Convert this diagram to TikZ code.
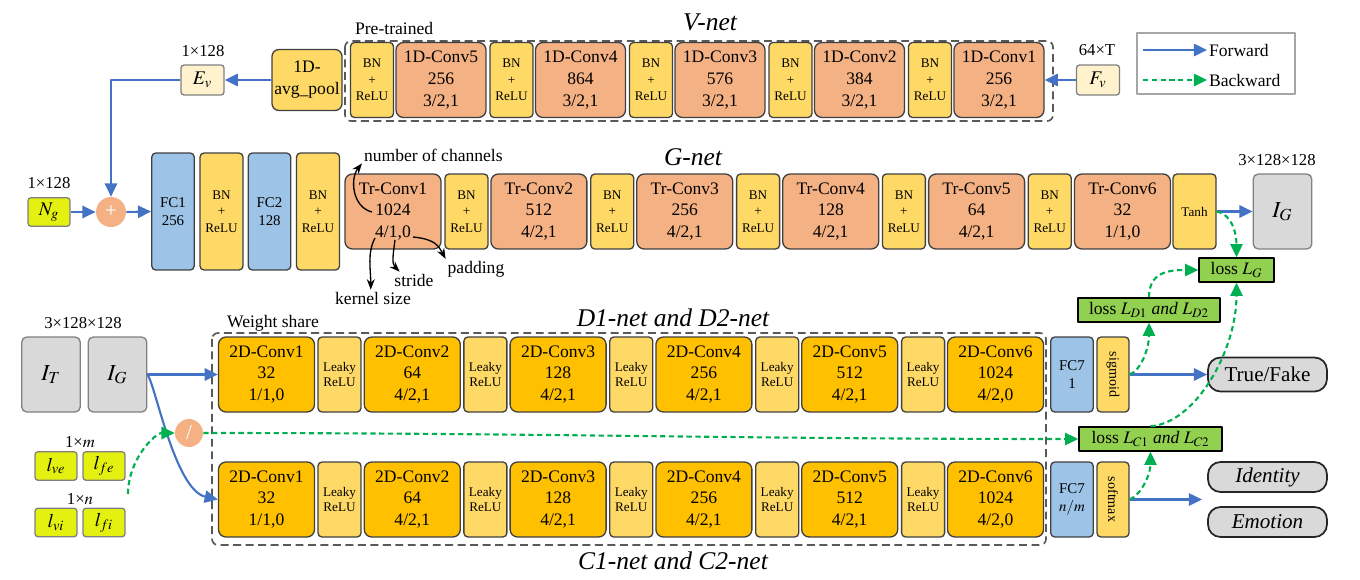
\documentclass[tikz,border=0pt]{standalone}
\usepackage{mathptmx}
\usepackage{fontspec}
\setmainfont{Liberation Serif}
\usetikzlibrary{arrows.meta}
\definecolor{convoc}{HTML}{F4B183}
\definecolor{convgc}{HTML}{FFC000}
\definecolor{bnyc}{HTML}{FFD966}
\definecolor{fcbc}{HTML}{9DC3E6}
\definecolor{imgc}{HTML}{D9D9D9}
\definecolor{featc}{HTML}{FFF2CC}
\definecolor{inpc}{HTML}{E4F00F}
\definecolor{lossc}{HTML}{92D050}
\definecolor{fwdc}{HTML}{4472C4}
\definecolor{bwdc}{HTML}{00B050}
\definecolor{edgec}{HTML}{404040}
\definecolor{graybc}{HTML}{808080}
\definecolor{framec}{HTML}{595959}
\definecolor{legc}{HTML}{A6A6A6}

\begin{document}
\begin{tikzpicture}[x=.02cm, y=-.02cm, line join=round]
  \tikzset{box/.style={draw=edgec, line width=.75pt, align=center, inner sep=0pt, text=black},
    conv/.style={box, fill=convoc, rounded corners=.15cm, minimum width=1.92cm, minimum height=1.5cm, font=\fontsize{10}{12.3}\selectfont},
    convv/.style={conv, minimum width=1.8cm},
    convd/.style={conv, fill=convgc},
    bn/.style={box, fill=bnyc, rounded corners=.08cm, minimum width=.86cm, minimum height=1.5cm, font=\fontsize{7.5}{9.5}\selectfont},
    leaky/.style={bn, font=\fontsize{7.5}{8.6}\selectfont},
    fc/.style={box, fill=fcbc, rounded corners=.08cm, minimum width=.85cm, minimum height=1.5cm, font=\fontsize{8.5}{10.3}\selectfont},
    act/.style={bn, minimum width=1.5cm, minimum height=.64cm, rotate=-90, font=\fontsize{8}{10}\selectfont},
    feat/.style={box, draw=graybc, fill=featc, rounded corners=.06cm, minimum width=.86cm, minimum height=.6cm, font=\fontsize{11}{13}\selectfont},
    inp/.style={box, draw=graybc, fill=inpc, rounded corners=.06cm, minimum width=.84cm, minimum height=.57cm, font=\fontsize{11}{13}\selectfont},
    img/.style={box, draw=graybc, fill=imgc, rounded corners=.1cm, minimum width=1.17cm, minimum height=1.5cm, font=\fontsize{13}{15}\selectfont},
    op/.style={circle, fill=convoc, text=white, inner sep=0pt, minimum size=.6cm, font=\fontsize{12}{12}\selectfont},
    lossbox/.style={box, draw=black, line width=.9pt, fill=lossc, minimum height=.48cm, font=\fontsize{10}{12}\selectfont},
    outbox/.style={box, draw=black!85, line width=1pt, fill=imgc, rounded corners=.25cm, minimum width=2.38cm, minimum height=.68cm, font=\fontsize{12}{14}\selectfont},
    dimlbl/.style={inner sep=0pt, font=\fontsize{9.5}{11}\selectfont},
    title/.style={inner sep=0pt, font=\fontsize{14.5}{16}\selectfont\itshape},
    note/.style={inner sep=1pt, font=\fontsize{10}{12}\selectfont},
    frame/.style={draw=framec, line width=.95pt, dash pattern=on 4.5pt off 2.6pt, rounded corners=.12cm},
    fwd/.style={draw=fwdc, line width=1.2pt, -{Triangle[length=7.5pt,width=7pt]}},
    bwd/.style={draw=bwdc, line width=1.2pt, dash pattern=on 3pt off 2pt, -{Triangle[length=7.5pt,width=7pt]}},
    ann/.style={draw=black, line width=.75pt, -{Stealth[length=6pt,width=4.5pt]}}}

  \useasboundingbox (0,0) rectangle (1360,579);

  % V-net
  \draw[frame] (345,41) rectangle (1053,121);
  \node[note, anchor=west] (pretr) at (353,28) {Pre-trained};
  \node[title] (vnet) at (710,22) {V-net};
  \foreach \pos/\lay/\ch in {0/5/256,1/4/864,2/3/576,3/2/384,4/1/256} {
    \node[bn] (vbn\lay) at (372+139.5*\pos,80) {BN\\+\\ReLU};
    \node[convv] (vconv\lay) at (441+139.5*\pos,80) {1D-Conv\lay\\\ch\\3/2,1};
  }
  \node[bn, minimum width=1.4cm, minimum height=1.22cm, rounded corners=.14cm, font=\fontsize{10}{12.5}\selectfont] (vpool) at (307,80) {1D-\\avg\_pool};
  \node[feat] (fv) at (1098,80) {$F_v$};
  \node[dimlbl] (fvdim) at (1097,50) {64×T};
  \node[feat] (ev) at (202.5,80) {$E_v$};
  \node[dimlbl] (evdim) at (203,51) {1×128};
  \draw[fwd] (fv.west) -- (vconv1.east);
  \draw[fwd] (vpool.west) -- (ev.east);

  % legend
  \node[draw=legc, line width=.8pt, minimum width=3.16cm, minimum height=1.22cm] (legend) at (1216,63.5) {};
  \node[note, anchor=west] (fwdtxt) at (1207,50) {Forward};
  \node[note, anchor=west] (bwdtxt) at (1207,80) {Backward};
  \coordinate (fwdtail) at (1143,50);
  \coordinate (bwdtail) at (1143,80);
  \draw[fwd] (fwdtail) -- (fwdtxt.west);
  \draw[bwd] (bwdtail) -- (bwdtxt.west);

  % G-net
  \node[inp] (ng) at (49,212) {$N_g$};
  \node[dimlbl] (ngdim) at (49,183) {1×128};
  \node[op] (plus) at (111,212) {+};
  \node[fc, minimum height=2.34cm] (fc1) at (173,211.5) {FC1\\256};
  \node[bn, minimum height=2.34cm] (fcbn1) at (221.5,211.5) {BN\\+\\ReLU};
  \node[fc, minimum height=2.34cm] (fc2) at (269.5,211.5) {FC2\\128};
  \node[bn, minimum height=2.34cm] (fcbn2) at (318,211.5) {BN\\+\\ReLU};
  \node[title] (gnet) at (693,157) {G-net};
  \foreach \pos/\ch/\ks/\sd/\pd in {1/1024/4/1/0,2/512/4/2/1,3/256/4/2/1,4/128/4/2/1,5/64/4/2/1,6/32/1/1/0}
    \node[conv] (tr\pos) at (247.1+145.9*\pos,211.5) {Tr-Conv\pos\\\ch\\\ks/\sd,\pd};
  \foreach \pos in {1,...,5}
    \node[bn] (gbn\pos) at (320.7+145.8*\pos,211.5) {BN\\+\\ReLU};
  \node[bn] (tanh) at (1194.5,211.5) {Tanh};
  \node[img] (ig) at (1282.5,211.5) {$I_G$};
  \node[dimlbl] (igdim) at (1277,160) {3×128×128};
  \draw[fwd] (ev.west) -| (plus.north);
  \draw[fwd] (ng.east) -- (plus.west);
  \draw[fwd] (plus.east) -- (fc1.west);
  \draw[fwd] (tanh.east) -- (ig.west);

  % Tr-Conv1 notes
  \node[note, anchor=west] (nch) at (362,155) {number of channels};
  \node[note] (ksz) at (373,298) {kernel size};
  \node[note] (strd) at (414,280) {stride};
  \node[note] (padd) at (476,269) {padding};
  \coordinate (chpt) at (372,212);
  \coordinate (kspt) at (375,238);
  \coordinate (sdpt) at (395,240);
  \coordinate (pdpt) at (413,237);
  \draw[ann] (chpt) .. controls +(-20,-5) and +(-12,15) .. (nch.south west);
  \draw[ann] (kspt) .. controls +(-8,15) and +(0,-20) .. (ksz.105);
  \draw[ann] (sdpt) .. controls +(-2,15) and +(-8,-8) .. (strd.150);
  \draw[ann] (pdpt) .. controls +(20,2) and +(-8,-15) .. (padd.north west);

  % D1/D2-net and C1/C2-net
  \draw[frame] (212,333) rectangle (1046,545);
  \node[note, anchor=west] (wshare) at (225,323) {Weight share};
  \node[title] (dnet) at (673,318) {D1-net and D2-net};
  \node[title] (cnet) at (673,561) {C1-net and C2-net};
  \foreach \row/\y in {d/374.5,c/499.5} {
    \foreach \pos/\ch/\ks/\sd/\pd in {1/32/1/1/0,2/64/4/2/1,3/128/4/2/1,4/256/4/2/1,5/512/4/2/1,6/1024/4/2/0}
      \node[convd] (\row conv\pos) at (120.7+145.8*\pos,\y) {2D-Conv\pos\\\ch\\\ks/\sd,\pd};
    \foreach \pos in {1,...,5}
      \node[leaky] (\row relu\pos) at (193.6+145.9*\pos,\y) {Leaky\\ReLU};
  }
  \node[fc] (dfc) at (1072,374.5) {FC7\\1};
  \node[act] (dsig) at (1113,374.5) {sigmoid};
  \node[fc] (cfc) at (1072,499.5) {FC7\\$n/m$};
  \node[act] (csoft) at (1113,499.5) {softmax};

  % inputs
  \node[img] (it) at (51,374.5) {$I_T$};
  \node[img] (igd) at (117.5,374.5) {$I_G$};
  \node[dimlbl] (itdim) at (83,323) {3×128×128};
  \node[inp] (lve) at (56,466) {$l_{ve}$};
  \node[inp] (lfe) at (104,466) {$l_{fe}$};
  \node[inp] (lvi) at (56,522.5) {$l_{vi}$};
  \node[inp] (lfi) at (104,522.5) {$l_{fi}$};
  \node[dimlbl] (mdim) at (80,442) {1×$m$};
  \node[dimlbl] (ndim) at (80,499) {1×$n$};
  \node[op, minimum size=.56cm] (slash) at (189,433) {/};
  \coordinate (lsrc) at (128,494);

  % outputs and losses
  \node[outbox] (tf) at (1267.5,374.5) {True/Fake};
  \node[outbox, minimum height=.6cm, font=\fontsize{12}{14}\selectfont\itshape] (ident) at (1267.5,477) {Identity};
  \node[outbox, minimum height=.6cm, font=\fontsize{12}{14}\selectfont\itshape] (emo) at (1267.5,522) {Emotion};
  \coordinate (clsout) at (1202,499.5);
  \node[lossbox, minimum width=1.5cm] (lossg) at (1236.5,270) {loss $L_G$};
  \node[lossbox, minimum width=2.84cm] (lossd) at (1149,310) {loss $L_{D1}$ \textit{and} $L_{D2}$};
  \node[lossbox, minimum width=2.86cm] (lossc) at (1150.5,439) {loss $L_{C1}$ \textit{and} $L_{C2}$};

  \draw[fwd] (igd.east) -- (dconv1.west);
  \draw[fwd] (igd.east) .. controls +(8,10) and +(-43,-9.5) .. (cconv1.west);
  \draw[fwd] (dsig) -- (tf);
  \draw[fwd] (csoft) -- (clsout);
  \draw[bwd] (lsrc) .. controls +(0,-34) and +(-20,0) .. (slash.west);
  \draw[bwd] (slash.east) to[out=0, in=180] (lossc.west);
  \draw[bwd] (dsig.north) .. controls +(12,-5) and +(0,25) .. (lossd.south);
  \draw[bwd] (csoft.north) .. controls +(12,-5) and +(0,22) .. (lossc.south);
  \draw[bwd] (tanh.east) .. controls +(15,3) and +(0,-25) .. (lossg.north);
  \draw[bwd] (lossd.north) .. controls +(0,-25) and +(-30,0) .. (lossg.west);
  \draw[bwd] (lossc.north) .. controls +(45,-3) and +(0,68) .. (lossg.south);
\end{tikzpicture}
\end{document}
